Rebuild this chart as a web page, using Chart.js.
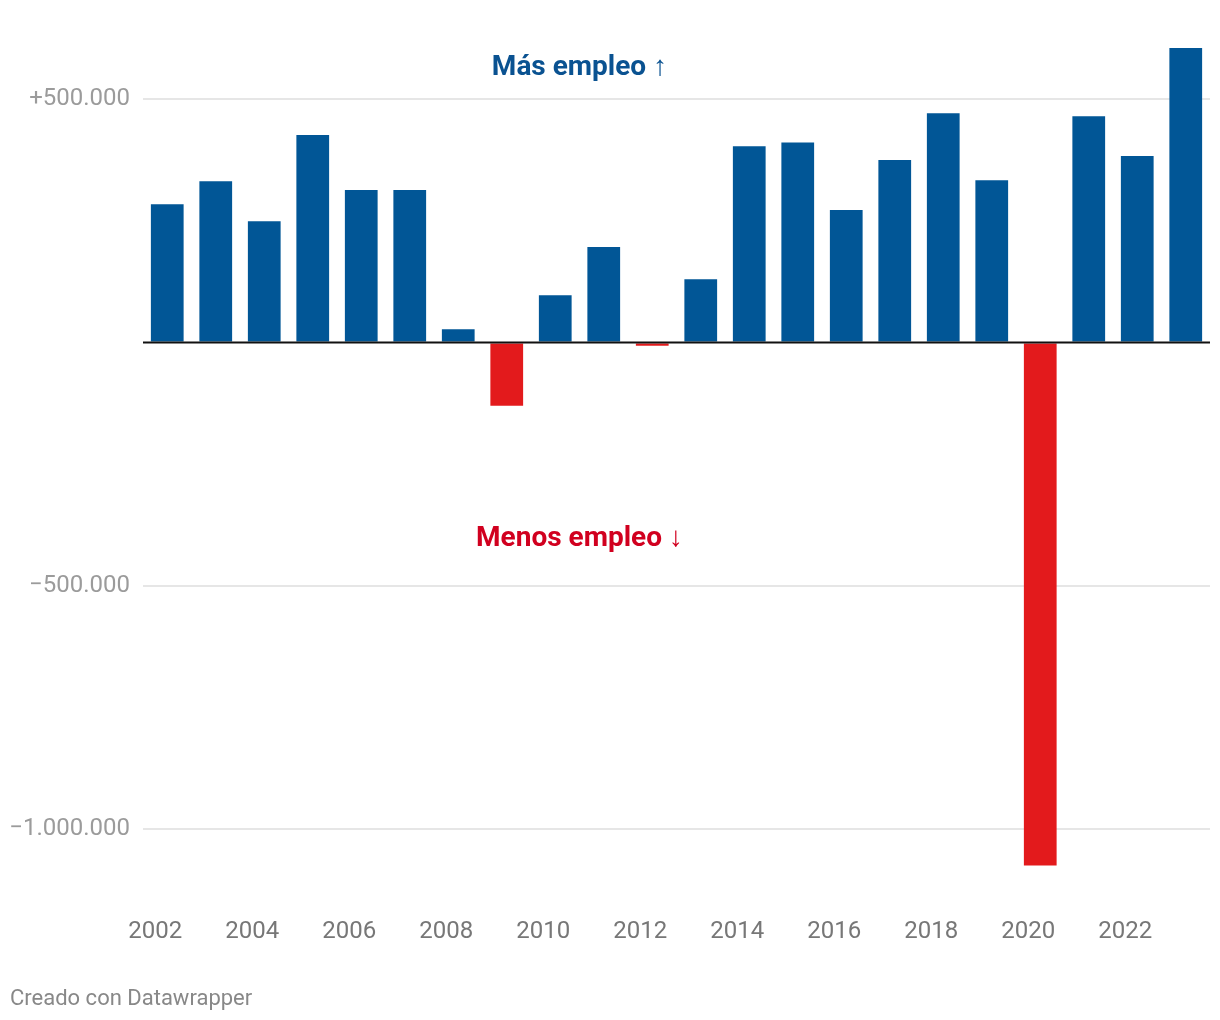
<!DOCTYPE html>
<html>
<head>
<meta charset="utf-8">
<script src="https://cdn.jsdelivr.net/npm/chart.js@4/dist/chart.umd.min.js"></script>
<style>
  html, body { margin: 0; padding: 0; background: #fff; overflow: hidden; }
  #wrap { width: 1220px; height: 1020px; position: relative; }
</style>
</head>
<body>
<div id="wrap"><canvas id="empleo"></canvas></div>
<script>
// data
var years = ['2002','2003','2004','2005','2006','2007','2008','2009','2010','2011','2012',
             '2013','2014','2015','2016','2017','2018','2019','2020','2021','2022','2023'];
var change = [284000, 331000, 249000, 426000, 313000, 313000, 27000, -130000, 97000, 196000, -7000,
              130000, 403000, 411000, 272000, 375000, 471000, 333000, -1075000, 465000, 383000, 605000];
var yTicks = [-1000000, -500000, 0, 500000];

var blue = '#015696';
var red = '#e31a1c';

function fmt(v) {
  if (v === 0) return '';
  var s = Math.abs(v).toString().replace(/\B(?=(\d{3})+(?!\d))/g, '.');
  return (v > 0 ? '+' : '\u2212') + s;
}

// zero line on top of bars, plus the two annotations and footer
var extras = {
  id: 'extras',
  afterDatasetsDraw: function(chart) {
    var c = chart.ctx, y = chart.scales.y, a = chart.chartArea;
    var y0 = y.getPixelForValue(0);
    c.save();
    c.strokeStyle = '#111';
    c.lineWidth = 2;
    c.beginPath();
    c.moveTo(a.left, y0);
    c.lineTo(a.right, y0);
    c.stroke();
    c.restore();
  },
  afterDraw: function(chart) {
    var c = chart.ctx, x = chart.scales.x, y = chart.scales.y;
    var mx = (x.getPixelForValue(8) + x.getPixelForValue(9)) / 2;
    c.save();
    c.textAlign = 'center';
    c.textBaseline = 'middle';
    c.font = 'bold 28px Roboto';
    c.fillStyle = '#0a5291';
    c.fillText('Más empleo \u2191', mx, y.getPixelForValue(563000));
    c.fillStyle = '#d1001f';
    c.fillText('Menos empleo \u2193', mx, y.getPixelForValue(-403000));
    c.textAlign = 'left';
    c.font = '22px Roboto';
    c.fillStyle = '#888';
    c.fillText('Creado con Datawrapper', 10, 999);
    c.restore();
  }
};

var ctx = document.getElementById('empleo').getContext('2d');
var chart = new Chart(ctx, {
  type: 'bar',
  data: {
    labels: years,
    datasets: [{
      data: change,
      backgroundColor: change.map(function(v){ return v < 0 ? red : blue; }),
      borderWidth: 0,
      categoryPercentage: 1,
      barPercentage: 0.675,
      clip: false
    }]
  },
  options: {
    responsive: true,
    maintainAspectRatio: false,
    animation: false,
    layout: { padding: { top: 48, right: 10, left: 0, bottom: 0 } },
    plugins: {
      legend: { display: false },
      tooltip: { enabled: false }
    },
    scales: {
      x: {
        grid: { display: false, drawTicks: false },
        border: { display: false },
        afterFit: function(s) {
          s.height = 152;
          s.paddingLeft = 0;
          s.paddingRight = 0;
        },
        ticks: {
          autoSkip: false,
          maxRotation: 0,
          padding: 50,
          labelOffset: -12,
          color: '#777',
          font: { family: 'Roboto', size: 24 },
          callback: function(v, i) { return i % 2 === 0 ? this.getLabelForValue(v) : ''; }
        }
      },
      y: {
        min: -1080000,
        max: 605000,
        afterFit: function(s) { s.width = 143; },
        afterBuildTicks: function(s) {
          s.ticks = yTicks.map(function(v){ return { value: v }; });
        },
        grid: {
          drawTicks: false,
          lineWidth: 2,
          color: function(c) { return c.tick && c.tick.value === 0 ? 'rgba(0,0,0,0)' : '#e6e6e6'; }
        },
        border: { display: false },
        ticks: {
          padding: 13,
          color: '#9b9b9b',
          font: { family: 'Roboto', size: 24 },
          callback: function(v) { return fmt(v); }
        }
      }
    }
  },
  plugins: [extras]
});
</script>
</body>
</html>
